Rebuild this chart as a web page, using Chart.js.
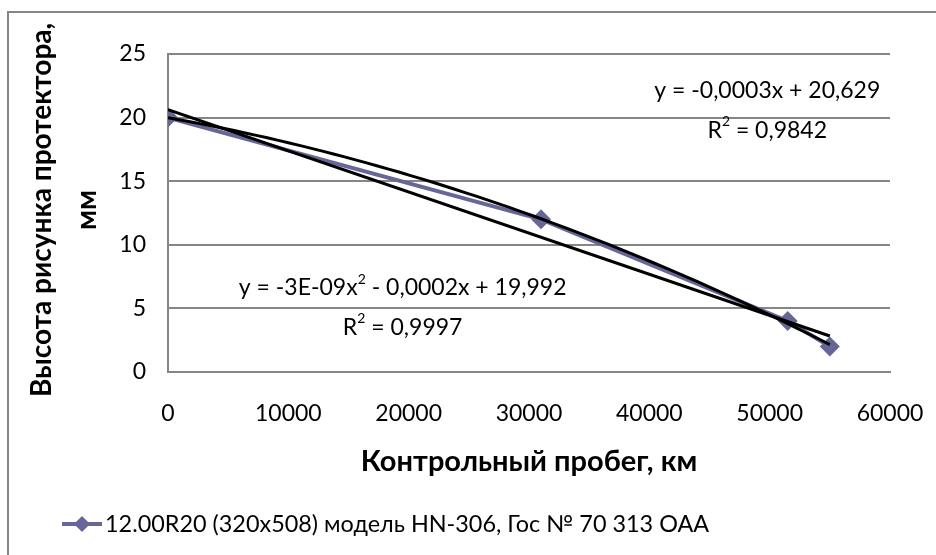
<!DOCTYPE html>
<html>
<head>
<meta charset="utf-8">
<script src="https://cdn.jsdelivr.net/npm/chart.js@4.4.0/dist/chart.umd.min.js"></script>
<style>
    html, body { margin: 0; padding: 0; background: #fff; }
    .wrap { position: relative; width: 936px; height: 555px; overflow: hidden; }
    .frame {
        position: absolute; left: 7px; top: 11px; width: 1000px; height: 600px;
        border-left: 2px solid #868686; border-top: 2px solid #868686;
    }
    canvas { position: absolute; left: 0; top: 0; }
</style>
</head>
<body>
<div class="wrap">
    <div class="frame"></div>
    <canvas id="wearChart" width="936" height="555"></canvas>
</div>
<script>
// ===========================
// Данные
// ===========================
const mileage = [0, 31000, 51500, 55000];      // км
const treadDepth = [20, 12, 4, 2];              // мм
const xTicks = [0, 10000, 20000, 30000, 40000, 50000, 60000];
const yTicks = [0, 5, 10, 15, 20, 25];

const seriesLabel = "12.00R20 (320x508) модель HN-306, Гос № 70 313 OAA";
const xTitle = "Контрольный пробег, км";
const yTitle = ["Высота рисунка протектора,", "мм"];

const linearLabel = [[{ t: "y = -0,0003x + 20,629" }], [{ t: "R" }, { t: "2", sup: true }, { t: " = 0,9842" }]];
const polyLabel = [[{ t: "y = -3E-09x" }, { t: "2", sup: true }, { t: " - 0,0002x + 19,992" }], [{ t: "R" }, { t: "2", sup: true }, { t: " = 0,9997" }]];

const FONT = "Lato, 'Open Sans', sans-serif";
const SERIES_COLOR = "#666699";
const GRID_COLOR = "#868686";

// ===========================
// Линии тренда (МНК по точкам)
// ===========================
function linearFit(xs, ys) {
    const n = xs.length;
    const mx = xs.reduce((a, b) => a + b, 0) / n;
    const my = ys.reduce((a, b) => a + b, 0) / n;
    let sxy = 0, sxx = 0;
    for (let i = 0; i < n; i++) {
        sxy += (xs[i] - mx) * (ys[i] - my);
        sxx += (xs[i] - mx) * (xs[i] - mx);
    }
    const b = sxy / sxx;
    return { a: my - b * mx, b: b };
}

function quadFit(xs, ys) {
    // нормальные уравнения для y = c0 + c1 x + c2 x^2 (x в тысячах км)
    const s = [0, 0, 0, 0, 0], t = [0, 0, 0];
    for (let i = 0; i < xs.length; i++) {
        const x = xs[i] / 1000;
        for (let k = 0; k < 5; k++) s[k] += Math.pow(x, k);
        for (let k = 0; k < 3; k++) t[k] += ys[i] * Math.pow(x, k);
    }
    const m = [
        [s[0], s[1], s[2], t[0]],
        [s[1], s[2], s[3], t[1]],
        [s[2], s[3], s[4], t[2]]
    ];
    for (let i = 0; i < 3; i++) {
        for (let j = i + 1; j < 3; j++) {
            const f = m[j][i] / m[i][i];
            for (let k = i; k < 4; k++) m[j][k] -= f * m[i][k];
        }
    }
    const c = [0, 0, 0];
    for (let i = 2; i >= 0; i--) {
        let v = m[i][3];
        for (let k = i + 1; k < 3; k++) v -= m[i][k] * c[k];
        c[i] = v / m[i][i];
    }
    return function (x) { const u = x / 1000; return c[0] + c[1] * u + c[2] * u * u; };
}

const xMin = Math.min(...mileage), xMax = Math.max(...mileage);
const lin = linearFit(mileage, treadDepth);
const linearTrend = [
    { x: xMin, y: lin.a + lin.b * xMin },
    { x: xMax, y: lin.a + lin.b * xMax }
];
const quad = quadFit(mileage, treadDepth);
const polyTrend = [];
for (let i = 0; i <= 60; i++) {
    const x = xMin + (xMax - xMin) * i / 60;
    polyTrend.push({ x: x, y: quad(x) });
}

// ===========================
// Подписи уравнений, заголовок оси Y и легенда
// ===========================
function drawRich(ctx, parts, cx, cy, size) {
    const supSize = Math.round(size * 0.62);
    let w = 0;
    parts.forEach(p => {
        ctx.font = (p.sup ? supSize : size) + "px " + FONT;
        p.w = ctx.measureText(p.t).width;
        w += p.w;
    });
    let x = cx - w / 2;
    ctx.textAlign = "left";
    ctx.textBaseline = "middle";
    parts.forEach(p => {
        ctx.font = (p.sup ? supSize : size) + "px " + FONT;
        ctx.fillText(p.t, x, p.sup ? cy - size * 0.38 : cy);
        x += p.w;
    });
}

const annotations = {
    id: "annotations",
    afterDraw(chart) {
        const ctx = chart.ctx;
        const xs = chart.scales.x, ys = chart.scales.y;
        ctx.save();
        ctx.fillStyle = "#000";

        drawRich(ctx, linearLabel[0], xs.getPixelForValue(49800), ys.getPixelForValue(22.1), 23);
        drawRich(ctx, linearLabel[1], xs.getPixelForValue(49800), ys.getPixelForValue(19.0), 23);
        drawRich(ctx, polyLabel[0], xs.getPixelForValue(19500), ys.getPixelForValue(6.6), 23);
        drawRich(ctx, polyLabel[1], xs.getPixelForValue(19500), ys.getPixelForValue(3.5), 23);

        // заголовок оси Y
        ctx.font = "bold 28px " + FONT;
        ctx.textAlign = "center";
        ctx.textBaseline = "middle";
        ctx.translate(42, 210);
        ctx.rotate(-Math.PI / 2);
        ctx.fillText(yTitle[0], 0, 0);
        ctx.fillText(yTitle[1], 0, 45);
        ctx.restore();

        // легенда
        ctx.save();
        const ly = 524;
        ctx.strokeStyle = SERIES_COLOR;
        ctx.lineWidth = 4;
        ctx.beginPath();
        ctx.moveTo(62, ly);
        ctx.lineTo(102, ly);
        ctx.stroke();
        ctx.fillStyle = SERIES_COLOR;
        ctx.beginPath();
        ctx.moveTo(82 - 8, ly);
        ctx.lineTo(82, ly - 8);
        ctx.lineTo(82 + 8, ly);
        ctx.lineTo(82, ly + 8);
        ctx.closePath();
        ctx.fill();
        ctx.fillStyle = "#000";
        ctx.font = "23.4px " + FONT;
        ctx.textAlign = "left";
        ctx.textBaseline = "middle";
        ctx.fillText(seriesLabel, 105, ly);
        ctx.restore();
    }
};

// ===========================
// График Chart.js
// ===========================
document.addEventListener("DOMContentLoaded", function () {
    const canvas = document.getElementById("wearChart");
    const ctx = canvas.getContext("2d");

    const data = {
        datasets: [
            {
                label: seriesLabel,
                data: mileage.map((x, i) => ({ x: x, y: treadDepth[i] })),
                showLine: true,
                borderColor: SERIES_COLOR,
                backgroundColor: SERIES_COLOR,
                borderWidth: 4,
                pointStyle: "rectRot",
                pointRadius: 10,
                pointBorderWidth: 0,
                order: 3
            },
            {
                label: "linear",
                data: linearTrend,
                showLine: true,
                borderColor: "#000",
                borderWidth: 3,
                pointRadius: 0,
                order: 1
            },
            {
                label: "poly",
                data: polyTrend,
                showLine: true,
                borderColor: "#000",
                borderWidth: 3,
                pointRadius: 0,
                tension: 0,
                order: 2
            }
        ]
    };

    const options = {
        responsive: false,
        animation: false,
        devicePixelRatio: 1,
        layout: { padding: { left: 0, top: 54, right: 46, bottom: 72 } },
        scales: {
            x: {
                type: "linear",
                min: 0,
                max: 60000,
                afterBuildTicks: s => { s.ticks = xTicks.map(v => ({ value: v })); },
                afterFit: s => { s.height = 111; s.paddingLeft = 0; s.paddingRight = 0; },
                grid: { display: false, drawTicks: false },
                border: { display: true, color: GRID_COLOR, width: 2 },
                ticks: {
                    color: "#000",
                    padding: 28,
                    maxRotation: 0,
                    font: { family: FONT, size: 23 },
                    callback: v => String(v)
                },
                title: {
                    display: true,
                    text: xTitle,
                    color: "#000",
                    padding: { top: 0, bottom: 4 },
                    font: { family: FONT, size: 29, weight: "bold" }
                }
            },
            y: {
                type: "linear",
                min: 0,
                max: 25,
                afterBuildTicks: s => { s.ticks = yTicks.map(v => ({ value: v })); },
                afterFit: s => { s.width = 168; },
                grid: { color: GRID_COLOR, lineWidth: 2, drawTicks: false },
                border: { display: true, color: GRID_COLOR, width: 2 },
                ticks: {
                    color: "#000",
                    padding: 22,
                    font: { family: FONT, size: 23 }
                }
            }
        },
        plugins: {
            legend: { display: false },
            tooltip: { enabled: false }
        }
    };

    new Chart(ctx, {
        type: "scatter",
        data: data,
        options: options,
        plugins: [annotations]
    });
});
</script>
</body>
</html>
